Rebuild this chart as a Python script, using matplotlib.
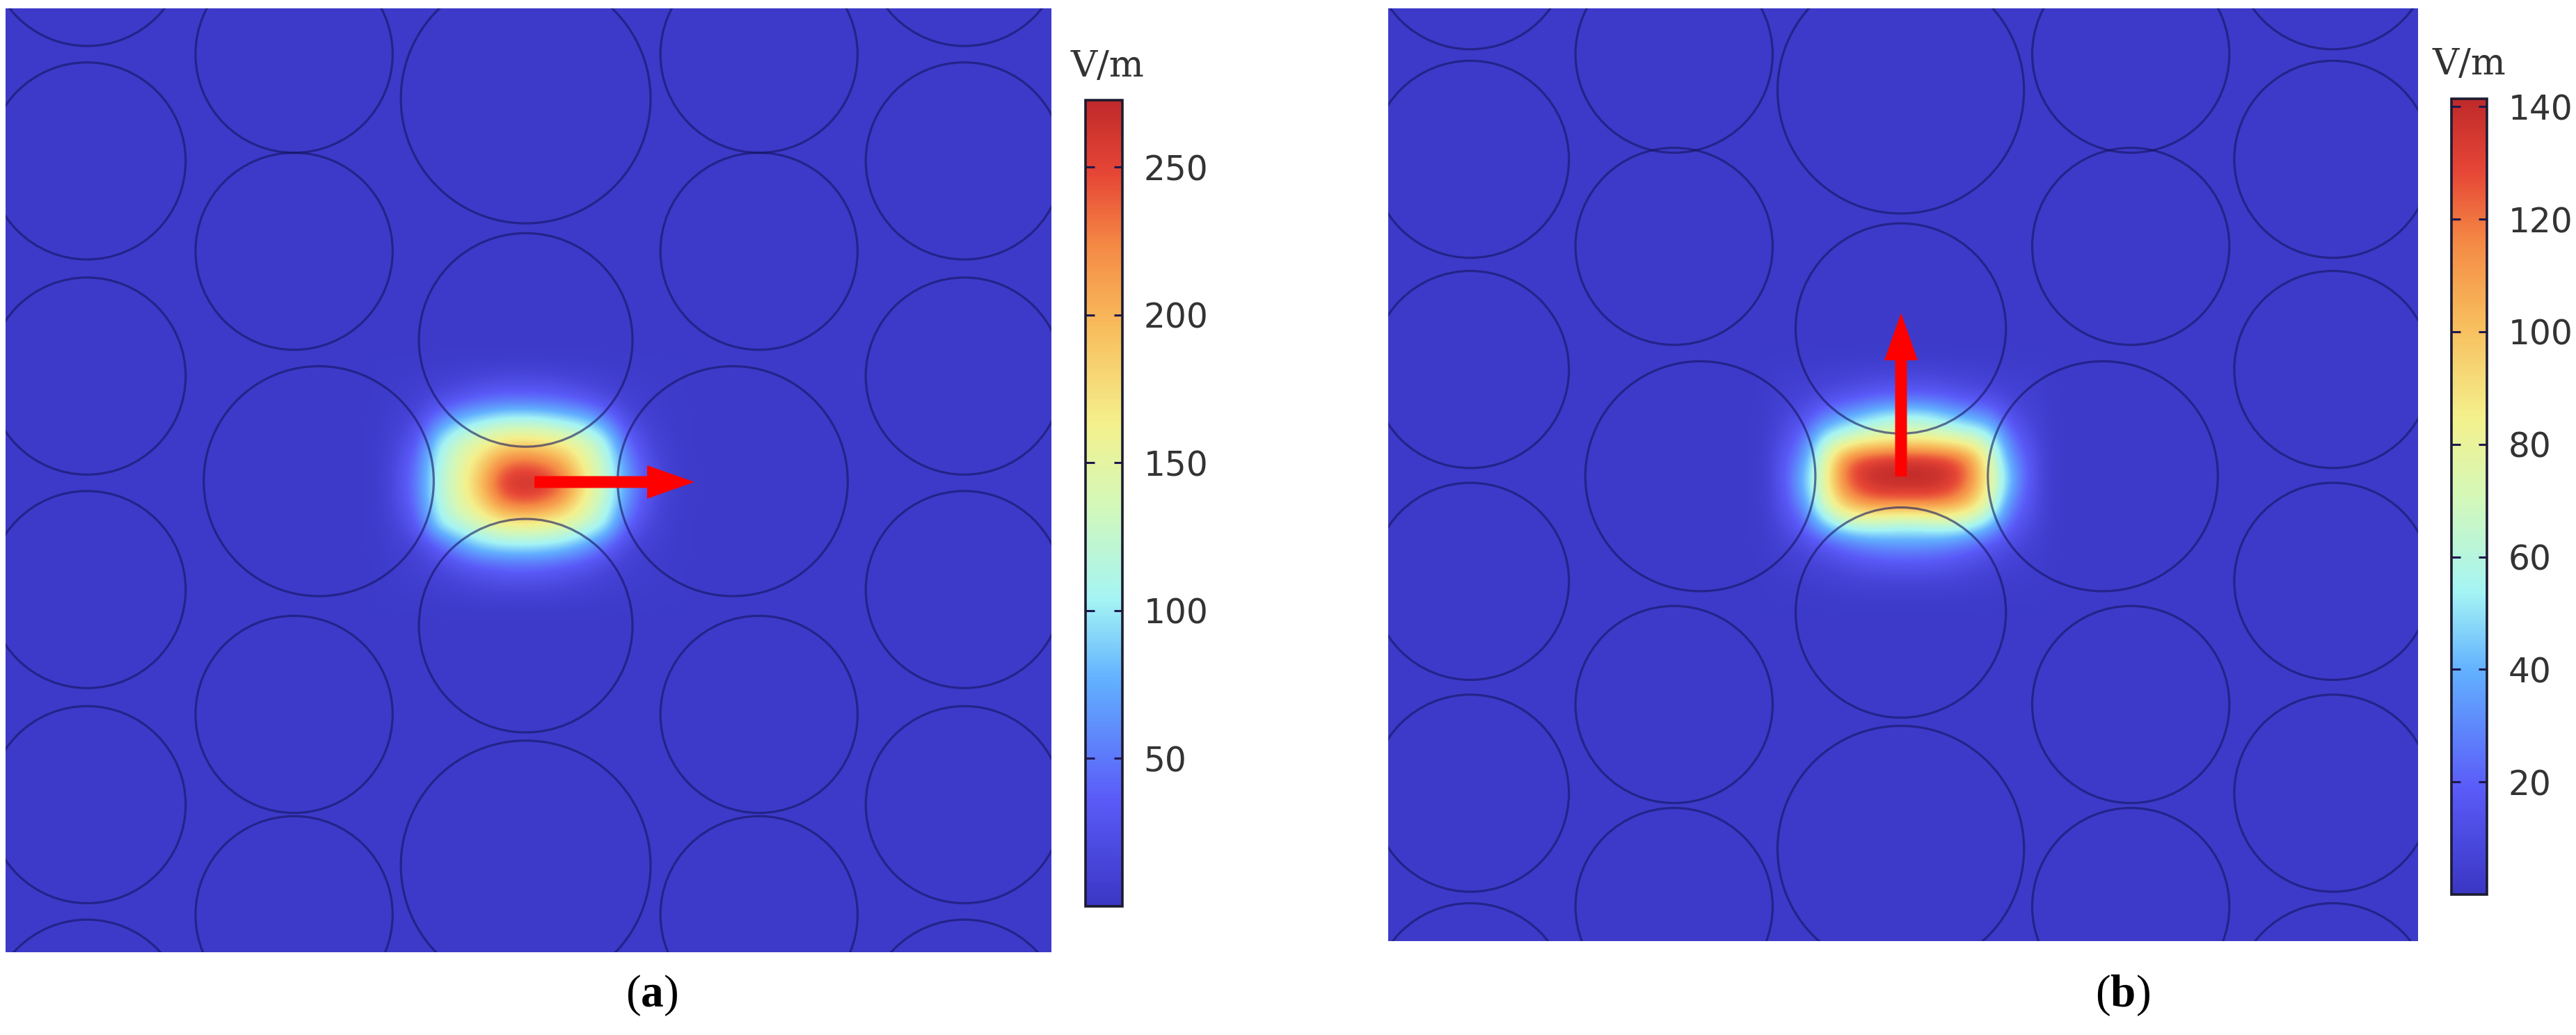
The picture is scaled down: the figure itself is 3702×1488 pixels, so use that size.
import numpy as np
import matplotlib
matplotlib.use('Agg')
import matplotlib.pyplot as plt
from matplotlib.colors import LinearSegmentedColormap, Normalize
from matplotlib.patches import Circle
from matplotlib.cm import ScalarMappable

W, H = 3702, 1488
S = 3702 / 1568

plt.rcParams['mathtext.fontset'] = 'custom'
plt.rcParams['mathtext.rm'] = 'Liberation Serif'
plt.rcParams['mathtext.bf'] = 'Liberation Serif:bold'

# Field, V/m
a_x = [570, 600, 630, 660, 690, 720, 750, 780, 810, 840, 870, 900, 930, 960]
a_y = [545, 575, 605, 635, 665, 695, 725, 755, 785, 815, 845]
a_field = [
    [6, 7, 9, 12, 15, 18, 18, 18, 15, 12, 9, 7, 6, 5],
    [7, 10, 20, 30, 40, 45, 46, 44, 40, 30, 20, 10, 7, 5],
    [10, 18, 55, 85, 100, 112, 115, 112, 100, 90, 60, 22, 10, 6],
    [14, 32, 100, 130, 150, 170, 175, 170, 160, 140, 112, 42, 18, 7],
    [18, 48, 110, 145, 180, 225, 240, 230, 205, 158, 122, 62, 24, 9],
    [20, 52, 115, 150, 195, 255, 272, 265, 240, 175, 128, 72, 30, 10],
    [18, 48, 110, 145, 178, 225, 238, 230, 205, 155, 120, 62, 24, 9],
    [14, 32, 100, 120, 135, 155, 160, 155, 145, 130, 105, 38, 18, 7],
    [10, 14, 35, 65, 90, 98, 100, 98, 90, 70, 42, 16, 10, 6],
    [7, 10, 16, 25, 32, 38, 40, 38, 32, 25, 16, 10, 7, 5],
    [6, 7, 9, 12, 15, 18, 18, 18, 15, 12, 9, 7, 6, 5],
]
b_x = [2560, 2590, 2620, 2650, 2680, 2710, 2740, 2770, 2800, 2830, 2860, 2890, 2920]
b_y = [540, 570, 600, 630, 660, 690, 720, 750, 780, 810, 840]
b_field = [
    [4, 4, 5, 6, 7, 8, 8, 8, 7, 6, 5, 4, 4],
    [5, 7, 10, 13, 17, 20, 20, 20, 17, 13, 10, 7, 5],
    [7, 12, 27, 38, 46, 55, 58, 55, 46, 38, 32, 12, 7],
    [10, 22, 55, 65, 75, 80, 80, 80, 75, 70, 60, 24, 10],
    [14, 32, 70, 118, 132, 136, 138, 136, 132, 118, 75, 34, 14],
    [14, 40, 75, 122, 138, 142, 142, 142, 138, 122, 80, 42, 14],
    [13, 32, 70, 105, 120, 125, 125, 125, 120, 105, 75, 30, 13],
    [10, 20, 50, 65, 70, 66, 62, 66, 70, 65, 50, 20, 10],
    [6, 10, 17, 26, 32, 35, 36, 35, 32, 26, 17, 10, 6],
    [4, 6, 8, 11, 14, 16, 16, 16, 14, 11, 8, 6, 4],
    [3, 3, 4, 5, 6, 6, 6, 6, 6, 5, 4, 3, 3],
]
a_background = 4
b_background = 2

# Cylinders (centre x, centre y, radius), read in the 1568-wide view
a_circles = [
    (320, 207, 65), (320, 381, 65), (194, 293, 70), (446, 293, 70),
    (320, 60, 76), (320, 527, 76),
    (179, 33, 60), (462, 33, 60), (179, 153, 60), (462, 153, 60),
    (179, 435, 60), (462, 435, 60), (179, 557, 60), (462, 557, 60),
    (53, -32, 60), (53, 98, 60), (53, 229, 60), (53, 359, 60), (53, 490, 60), (53, 620, 60),
    (587, -32, 60), (587, 98, 60), (587, 229, 60), (587, 359, 60), (587, 490, 60), (587, 620, 60),
]
b_circles = [
    (1157, 200, 64), (1157, 373, 64), (1035, 290, 70), (1280, 290, 70),
    (1157, 55, 75), (1157, 517, 75),
    (1019, 33, 60), (1297, 33, 60), (1019, 150, 60), (1297, 150, 60),
    (1019, 429, 60), (1297, 429, 60), (1019, 552, 60), (1297, 552, 60),
    (895, -30, 60), (895, 97, 60), (895, 225, 60), (895, 354, 60), (895, 483, 60), (895, 610, 60),
    (1420, -30, 60), (1420, 97, 60), (1420, 225, 60), (1420, 354, 60), (1420, 483, 60), (1420, 610, 60),
]

a_ticks = [50, 100, 150, 200, 250]
b_ticks = [20, 40, 60, 80, 100, 120, 140]
a_range = (0, 272.6)
b_range = (0, 141.4)
unit = 'V/m'

cmap = LinearSegmentedColormap.from_list('comsol', [
    (0.00, '#3a37c4'), (0.13, '#5a5af8'), (0.28, '#62b0ff'), (0.38, '#a4f4f4'),
    (0.50, '#d4f8b8'), (0.60, '#f4f08c'), (0.72, '#f8bc5c'), (0.82, '#f58a45'),
    (0.91, '#e64636'), (1.00, '#c02a2a')])

fig = plt.figure(figsize=(W / 100, H / 100), dpi=100, facecolor='white')


def px_axes(x0, y0, x1, y1):
    return fig.add_axes([x0 / W, 1 - y1 / H, (x1 - x0) / W, (y1 - y0) / H])


def panel(box, xs, ys, field, bg, circles, vrange, arrow, cbox, ticks, label, label_x, unit_x, unit_y):
    ax = px_axes(*box)
    norm = Normalize(*vrange)
    ax.set_facecolor(cmap(norm(bg)))
    padded = np.pad(np.asarray(field, float), 1, constant_values=bg)
    ax.imshow(padded, cmap=cmap, norm=norm, interpolation='bicubic', aspect='auto',
              extent=(xs[0] - 45, xs[-1] + 45, ys[-1] + 45, ys[0] - 45), zorder=1)
    for cx, cy, r in circles:
        ax.add_patch(Circle((cx * S, cy * S), r * S, fill=False, ec=(0.08, 0.08, 0.38, 0.6),
                            lw=2.3, zorder=2))
    x, y, dx, dy = arrow
    ax.arrow(x, y, dx, dy, width=17, head_width=48, head_length=68,
             length_includes_head=True, color='#ff0000', lw=0, zorder=3)
    ax.set_xlim(box[0], box[2])
    ax.set_ylim(box[3], box[1])
    ax.set_xticks([])
    ax.set_yticks([])
    for s in ax.spines.values():
        s.set_visible(False)

    cax = px_axes(*cbox)
    cb = fig.colorbar(ScalarMappable(norm=norm, cmap=cmap), cax=cax, ticks=ticks)
    cb.outline.set_edgecolor('#1c1c30')
    cb.outline.set_linewidth(2.6)
    cax.tick_params(left=True, right=True, direction='in', length=9, width=2.2,
                    color='#201850', labelsize=35, labelcolor='#333333', pad=22)
    fig.text(unit_x / W, 1 - unit_y / H, unit, family='DejaVu Serif', fontsize=38,
             color='#333333', ha='left', va='baseline')
    fig.text(label_x / W, 1 - 1431 / H, label, family='Liberation Serif', fontsize=47,
             color='black', ha='center', va='center')


panel((8, 12, 1511, 1369), a_x, a_y, a_field, a_background, a_circles, a_range,
      (768, 693, 230, 0), (1560, 144, 1613, 1303), a_ticks,
      r'($\mathbf{a}$)', 937, 1538, 110)
panel((1995, 12, 3475, 1353), b_x, b_y, b_field, b_background, b_circles, b_range,
      (2732, 685, 0, -235), (3523, 142, 3574, 1286), b_ticks,
      r'($\mathbf{b}$)', 3050, 3495, 107)

fig.savefig('out.png', dpi=100, facecolor='white')
